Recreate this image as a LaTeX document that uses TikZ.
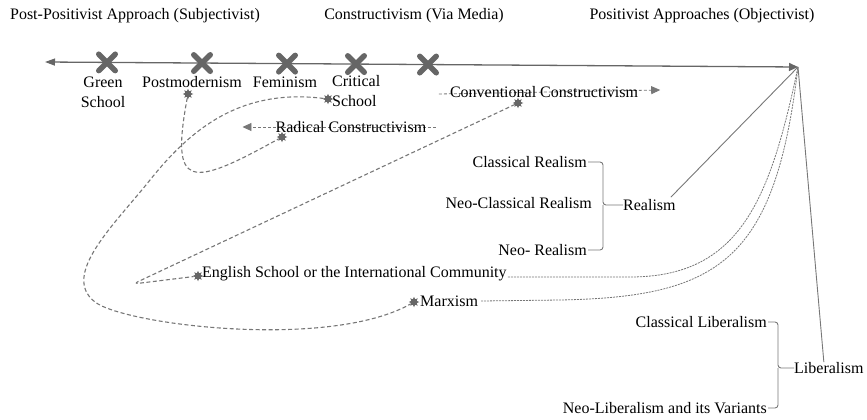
\documentclass[tikz,border=0pt]{standalone}
\usepackage{fontspec}
\setmainfont{Liberation Serif}
\usetikzlibrary{arrows.meta,shapes.geometric,shapes.misc}
\definecolor{lg}{HTML}{777777}
\definecolor{dg}{HTML}{666666}
\pgfdeclarelayer{bg}
\pgfsetlayers{bg,main}
\begin{document}
\begin{tikzpicture}[x=1pt,y=-1pt,
  every node/.style={font=\fontsize{16}{20}\selectfont, inner sep=0pt, text=black},
  xmark/.style={cross out, draw=dg, line width=5.5pt, line cap=round, minimum size=11pt, inner sep=0pt},
  starmark/.style={star, star points=8, star point ratio=1.8, fill=dg, draw=none, minimum size=10.5pt, inner sep=0pt},
  axisline/.style={dg, line width=1.3pt},
  solidline/.style={lg, line width=0.9pt},
  loopdash/.style={lg, line width=1.1pt, dash pattern=on 4pt off 2.5pt},
  finedash/.style={lg, line width=0.8pt, dash pattern=on 2pt off 1pt},
  arrdash/.style={lg, line width=0.8pt, dash pattern=on 3pt off 2pt},
  brk/.style={lg, line width=0.9pt, rounded corners=3pt},
  tipend/.style={-{Triangle[length=9pt,width=8pt]}},
]
\useasboundingbox (0,0) rectangle (867,420);

% titles
\node (ttl1) at (135,16) {Post-Positivist Approach (Subjectivist)};
\node (ttl2) at (414,16) {Constructivism (Via Media)};
\node (ttl3) at (702,16) {Positivist Approaches (Objectivist)};

% axis
\coordinate (leftend) at (45,62);
\coordinate (apex) at (798,67);

% crosses
\foreach \n/\x in {1/107,2/202,3/287,4/356,5/428}
  \node[xmark] (x\n) at (\x,{62+(\x-45)*5/753}) {};

% labels on axis
\node[align=center] (green) at (103,92) {Green\\School};
\node (pm) at (192,82) {Postmodernism};
\node (fem) at (285,82) {Feminism};
\node[align=left, anchor=west] (crit) at (332,91) {Critical\\School};

\node (conv) at (544,92) {Conventional Constructivism};
\node (rad) at (351,127) {Radical Constructivism};

% realism group
\node[anchor=east] (cr) at (587,162) {Classical Realism};
\node[anchor=east] (ncr) at (592,203) {Neo-Classical Realism};
\node[anchor=east] (nr) at (587,250) {Neo- Realism};
\node[anchor=west] (realism) at (623,205) {Realism};

% others
\node[anchor=west] (eng) at (202,274) {English School or the International Community};
\node[anchor=west] (marx) at (420,301) {Marxism};

% liberalism group
\node[anchor=east] (cl) at (767,322) {Classical Liberalism};
\node[anchor=east] (nl) at (767,408) {Neo-Liberalism and its Variants};
\node[anchor=west] (lib) at (794,368) {Liberalism};

% star markers
\node[starmark] (spm) at (188,94) {};
\node[starmark] (scs) at (328,99) {};
\node[starmark] (src) at (282,137) {};
\node[starmark] (scc) at (518,103) {};
\node[starmark] (ses) at (198,276) {};
\node[starmark] (smx) at (414,302) {};

\begin{pgfonlayer}{bg}
  \draw[axisline, {Triangle[length=10pt,width=7pt]}-{Triangle[length=9pt,width=8pt]}] (leftend) -- (apex);
  \draw[solidline] (apex) -- ([xshift=-5pt,yshift=2pt]realism.north east);
  \draw[solidline] (apex) -- ([xshift=-5pt]lib.north);

  \draw[arrdash, tipend] ([xshift=-11pt,yshift=-2pt]conv.west) -- ([xshift=22pt,yshift=2pt]conv.east);
  \draw[arrdash, tipend] ([xshift=9pt]rad.east) -- ([xshift=-33pt]rad.west);

  \draw[brk] ([xshift=1pt]cr.east) -| ([xshift=-20pt]realism.west) -- (realism.west);
  \draw[brk] ([xshift=1pt]nr.east) -| ([xshift=-20pt]realism.west);
  \draw[brk] ([xshift=1pt]cl.east) -| ([xshift=-16pt]lib.west) -- (lib.west);
  \draw[brk] ([xshift=1pt]nl.east) -| ([xshift=-16pt]lib.west);

  \draw[finedash] ([xshift=1pt,yshift=-3pt]eng.east) -- (630,277) .. controls (740,277) and (770,200) .. (apex);
  \draw[finedash] ([xshift=3pt]marx.east) -- (560,300) .. controls (720,297) and (775,260) .. (apex);

  \draw[loopdash, rounded corners=6pt] (scc) -- (133,284) -- (ses);
  \draw[loopdash] (spm) .. controls (170,190) and (190,188) .. (src);
  \draw[loopdash] (scs) .. controls (240,88) and (190,130) .. (150,180)
     .. controls (115,224) and (60,275) .. (95,302)
     .. controls (125,325) and (330,350) .. (smx);
\end{pgfonlayer}
\end{tikzpicture}
\end{document}
